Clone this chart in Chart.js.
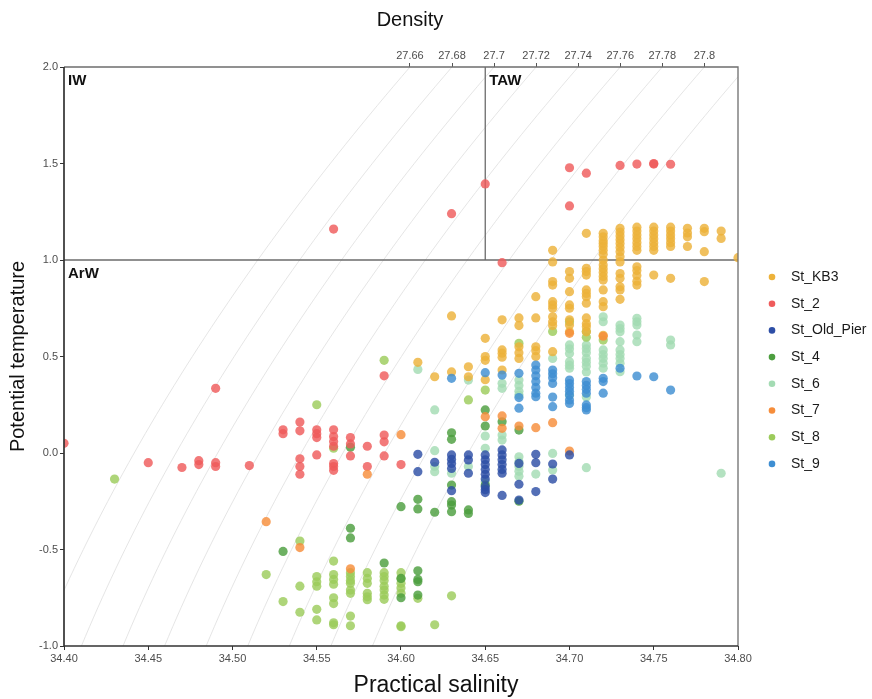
<!DOCTYPE html>
<html>
<head>
<meta charset="utf-8">
<script src="https://cdn.jsdelivr.net/npm/chart.js@4.4.1/dist/chart.umd.min.js"></script>
<style>
  html, body { margin: 0; padding: 0; background: #fff; }
  #wrap { width: 872px; height: 699px; }
</style>
</head>
<body>
<div id="wrap"><canvas id="ts" width="872" height="699"></canvas></div>
<script>
// Potential temperature / practical salinity pairs per station: [S, theta]
const stKB3 = [
  [34.61,0.47],[34.62,0.395],[34.63,0.71],[34.63,0.42],[34.64,0.447],[34.64,0.395],
  [34.65,0.594],[34.65,0.50],[34.65,0.48],[34.65,0.38],
  [34.66,0.69],[34.66,0.534],[34.66,0.517],[34.66,0.496],[34.66,0.43],
  [34.67,0.70],[34.67,0.66],[34.67,0.55],[34.67,0.52],[34.67,0.49],
  [34.68,0.81],[34.68,0.70],[34.68,0.55],[34.68,0.53],[34.68,0.50],
  [34.69,1.05],[34.69,0.99],[34.69,0.888],[34.69,0.87],[34.69,0.784],[34.69,0.767],[34.69,0.75],[34.69,0.706],[34.69,0.68],[34.69,0.66],[34.69,0.525],
  [34.70,0.94],[34.70,0.905],[34.70,0.836],[34.70,0.767],[34.70,0.75],[34.70,0.69],[34.70,0.663],[34.70,0.628],
  [34.71,1.138],[34.71,0.957],[34.71,0.94],[34.71,0.922],[34.71,0.845],[34.71,0.827],[34.71,0.81],[34.71,0.776],[34.71,0.70],[34.71,0.67],[34.71,0.654],[34.71,0.628],
  [34.72,1.138],[34.72,1.12],[34.72,1.10],[34.72,1.085],[34.72,1.07],[34.72,1.05],[34.72,1.03],[34.72,1.0],[34.72,0.974],[34.72,0.955],[34.72,0.935],[34.72,0.915],[34.72,0.896],[34.72,0.845],[34.72,0.784],[34.72,0.758],[34.72,0.61],
  [34.73,1.164],[34.73,1.145],[34.73,1.125],[34.73,1.105],[34.73,1.085],[34.73,1.065],[34.73,1.043],[34.73,1.017],[34.73,0.99],[34.73,0.93],[34.73,0.905],[34.73,0.862],[34.73,0.845],[34.73,0.796],
  [34.74,1.17],[34.74,1.15],[34.74,1.13],[34.74,1.11],[34.74,1.09],[34.74,1.07],[34.74,1.05],[34.74,0.965],[34.74,0.945],[34.74,0.92],[34.74,0.89],[34.74,0.87],
  [34.75,1.17],[34.75,1.15],[34.75,1.13],[34.75,1.11],[34.75,1.09],[34.75,1.07],[34.75,1.05],[34.75,0.922],
  [34.76,1.17],[34.76,1.15],[34.76,1.13],[34.76,1.11],[34.76,1.09],[34.76,1.07],[34.76,0.905],
  [34.77,1.164],[34.77,1.14],[34.77,1.12],[34.77,1.07],
  [34.78,1.164],[34.78,1.147],[34.78,1.043],[34.78,0.888],
  [34.79,1.15],[34.79,1.112],
  [34.80,1.012]
];
const st2 = [
  [34.40,0.05],[34.45,-0.05],[34.47,-0.075],[34.48,-0.04],[34.48,-0.06],
  [34.49,0.335],[34.49,-0.05],[34.49,-0.07],[34.51,-0.065],
  [34.53,0.12],[34.53,0.10],[34.54,0.16],[34.54,0.115],[34.54,-0.03],[34.54,-0.07],[34.54,-0.11],
  [34.55,0.12],[34.55,0.10],[34.55,0.08],[34.55,-0.01],
  [34.56,1.16],[34.56,0.12],[34.56,0.085],[34.56,0.06],[34.56,0.035],[34.56,-0.055],[34.56,-0.07],[34.56,-0.09],
  [34.57,0.08],[34.57,0.047],[34.57,-0.015],
  [34.58,0.035],[34.58,-0.07],
  [34.59,0.40],[34.59,0.093],[34.59,0.058],[34.59,-0.015],
  [34.60,-0.06],
  [34.63,1.24],[34.65,1.394],[34.66,0.986],
  [34.70,1.478],[34.70,1.28],[34.71,1.45],[34.73,1.49],[34.74,1.497],[34.75,1.497],[34.75,1.50],[34.76,1.496]
];
const stOldPier = [
  [34.61,-0.007],[34.61,-0.097],[34.62,-0.048],
  [34.63,-0.01],[34.63,-0.033],[34.63,-0.054],[34.63,-0.08],[34.63,-0.195],
  [34.64,-0.01],[34.64,-0.036],[34.64,-0.105],
  [34.65,-0.01],[34.65,-0.035],[34.65,-0.06],[34.65,-0.085],[34.65,-0.11],[34.65,-0.135],[34.65,-0.175],[34.65,-0.19],[34.65,-0.205],
  [34.66,0.016],[34.66,-0.01],[34.66,-0.035],[34.66,-0.06],[34.66,-0.085],[34.66,-0.105],[34.66,-0.22],
  [34.67,-0.054],[34.67,-0.162],[34.67,-0.244],
  [34.68,-0.007],[34.68,-0.05],[34.68,-0.2],
  [34.69,-0.057],[34.69,-0.135],
  [34.70,-0.01]
];
const st4 = [
  [34.53,-0.51],[34.57,0.03],[34.57,-0.39],[34.57,-0.44],[34.59,-0.57],
  [34.60,-0.278],[34.60,-0.65],[34.60,-0.75],
  [34.61,-0.24],[34.61,-0.29],[34.61,-0.61],[34.61,-0.655],[34.61,-0.667],[34.61,-0.736],
  [34.62,-0.307],
  [34.63,0.105],[34.63,0.071],[34.63,-0.166],[34.63,-0.252],[34.63,-0.27],[34.63,-0.304],
  [34.64,-0.295],[34.64,-0.313],
  [34.65,0.223],[34.65,0.14],[34.65,-0.166],
  [34.66,0.162],[34.67,0.119],[34.67,-0.25]
];
const st6 = [
  [34.61,0.433],[34.62,0.223],[34.62,0.012],[34.62,-0.07],[34.62,-0.097],[34.63,-0.105],
  [34.64,0.378],[34.64,-0.07],[34.65,0.088],[34.65,0.024],[34.65,-0.149],
  [34.66,0.361],[34.66,0.335],[34.66,0.093],[34.66,0.067],
  [34.67,0.378],[34.67,0.35],[34.67,0.32],[34.67,0.30],[34.67,-0.02],[34.67,-0.045],[34.67,-0.07],[34.67,-0.095],[34.67,-0.12],
  [34.68,-0.109],
  [34.69,0.49],[34.69,-0.002],[34.69,-0.088],
  [34.70,0.56],[34.70,0.54],[34.70,0.516],[34.70,0.473],[34.70,0.455],[34.70,0.439],[34.70,0.30],
  [34.71,0.56],[34.71,0.54],[34.71,0.52],[34.71,0.49],[34.71,0.47],[34.71,0.45],[34.71,0.42],[34.71,0.29],[34.71,-0.076],
  [34.72,0.706],[34.72,0.68],[34.72,0.534],[34.72,0.51],[34.72,0.49],[34.72,0.465],[34.72,0.439],
  [34.73,0.663],[34.73,0.645],[34.73,0.628],[34.73,0.577],[34.73,0.534],[34.73,0.51],[34.73,0.49],[34.73,0.465],[34.73,0.421],
  [34.74,0.698],[34.74,0.68],[34.74,0.663],[34.74,0.611],[34.74,0.577],
  [34.76,0.585],[34.76,0.56],
  [34.79,-0.105]
];
const st7 = [
  [34.52,-0.356],[34.54,-0.49],[34.57,-0.60],[34.58,-0.11],[34.60,0.095],
  [34.65,0.188],[34.66,0.192],[34.66,0.128],[34.67,0.14],[34.68,0.131],[34.69,0.157],
  [34.70,0.01],[34.70,0.62],[34.72,0.605]
];
const st8 = [
  [34.43,-0.135],[34.52,-0.63],[34.53,-0.77],
  [34.54,-0.456],[34.54,-0.69],[34.54,-0.825],
  [34.55,0.25],[34.55,-0.64],[34.55,-0.667],[34.55,-0.69],[34.55,-0.81],[34.55,-0.865],
  [34.56,0.025],[34.56,-0.56],[34.56,-0.63],[34.56,-0.655],[34.56,-0.68],[34.56,-0.75],[34.56,-0.78],[34.56,-0.88],[34.56,-0.89],
  [34.57,-0.62],[34.57,-0.64],[34.57,-0.66],[34.57,-0.675],[34.57,-0.71],[34.57,-0.727],[34.57,-0.845],[34.57,-0.895],
  [34.58,-0.62],[34.58,-0.65],[34.58,-0.675],[34.58,-0.727],[34.58,-0.745],[34.58,-0.76],
  [34.59,0.48],[34.59,-0.62],[34.59,-0.64],[34.59,-0.66],[34.59,-0.69],[34.59,-0.71],[34.59,-0.736],[34.59,-0.758],
  [34.60,-0.62],[34.60,-0.65],[34.60,-0.675],[34.60,-0.70],[34.60,-0.727],[34.60,-0.895],[34.60,-0.90],
  [34.61,-0.753],[34.62,-0.89],[34.63,-0.74],
  [34.64,0.275],[34.65,0.326],[34.67,0.568],[34.69,0.63],[34.70,0.68],[34.71,0.63],[34.71,0.60],[34.72,0.585]
];
const st9 = [
  [34.63,0.387],[34.65,0.416],[34.66,0.404],[34.67,0.413],[34.67,0.287],[34.67,0.232],
  [34.68,0.456],[34.68,0.43],[34.68,0.40],[34.68,0.37],[34.68,0.34],[34.68,0.31],[34.68,0.292],
  [34.69,0.43],[34.69,0.41],[34.69,0.39],[34.69,0.36],[34.69,0.29],[34.69,0.24],
  [34.70,0.378],[34.70,0.36],[34.70,0.34],[34.70,0.32],[34.70,0.30],[34.70,0.275],[34.70,0.257],
  [34.71,0.37],[34.71,0.35],[34.71,0.33],[34.71,0.31],[34.71,0.249],[34.71,0.235],[34.71,0.223],
  [34.72,0.387],[34.72,0.37],[34.72,0.31],
  [34.73,0.439],[34.74,0.399],[34.75,0.395],[34.76,0.326]
];

// Station names (legend order) and colours
const stationNames  = ['St_KB3', 'St_2', 'St_Old_Pier', 'St_4', 'St_6', 'St_7', 'St_8', 'St_9'];
const stationColors = ['#EDB23A', '#EF5B5B', '#2D4EA6', '#4C9E3F', '#A3DBB3', '#F68D3A', '#9CCB5B', '#3E8ED2'];
const stationData   = [stKB3, st2, stOldPier, st4, st6, st7, st8, st9];
// Stacking: lower value drawn on top
const stationLayer  = [4, 3, 1, 5, 8, 2, 7, 2];

// Isopycnal levels (sigma-theta, kg m^-3)
const densityLevels = [27.66, 27.68, 27.70, 27.72, 27.74, 27.76, 27.78, 27.80, 27.82];

// Axis limits
const salRange = [34.40, 34.80];
const tempRange = [-1.0, 2.0];

// Water mass boundaries and labels
const boundaryTemp = 1.0;
const boundarySal = 34.65;
const waterMasses = [
  { name: 'IW',  s: 34.40, t: 2.0 },
  { name: 'TAW', s: 34.65, t: 2.0 },
  { name: 'ArW', s: 34.40, t: 1.0 }
];

// UNESCO (1981) one-atmosphere equation of state -> sigma
const SIGMA_REF_SHIFT = 0.0045;
function sigma0(S, T) {
  const rw = 999.842594 + 6.793952e-2*T - 9.095290e-3*T*T + 1.001685e-4*T*T*T
           - 1.120083e-6*T*T*T*T + 6.536332e-9*T*T*T*T*T;
  const A = 0.824493 - 4.0899e-3*T + 7.6438e-5*T*T - 8.2467e-7*T*T*T + 5.3875e-9*T*T*T*T;
  const B = -5.72466e-3 + 1.0227e-4*T - 1.6546e-6*T*T;
  const C = 4.8314e-4;
  return rw + A*S + B*Math.pow(S, 1.5) + C*S*S - 1000 + SIGMA_REF_SHIFT;
}
function salinityAt(level, T) {
  let S = 34.6;
  for (let i = 0; i < 8; i++) {
    const d = (sigma0(S + 1e-4, T) - sigma0(S - 1e-4, T)) / 2e-4;
    S += (level - sigma0(S, T)) / d;
  }
  return S;
}

// Isopycnal curves across the temperature range
const isoTemps = [];
for (let t = tempRange[0] - 0.1; t <= tempRange[1] + 0.1001; t += 0.05) isoTemps.push(t);
const isoDatasets = densityLevels.map(lv => ({
  type: 'line',
  label: '_iso' + lv,
  data: isoTemps.map(t => ({ x: salinityAt(lv, t), y: t })),
  borderColor: '#dedede',
  borderWidth: 0.8,
  pointRadius: 0,
  tension: 0,
  clip: 0,
  order: 20
}));

// Top axis ticks where each isopycnal meets the upper temperature limit
const topTicks = [];
const topLabels = [];
densityLevels.forEach(lv => {
  const s = salinityAt(lv, tempRange[1]);
  if (s >= salRange[0] && s <= salRange[1]) {
    topTicks.push(s);
    topLabels.push(String(parseFloat(lv.toFixed(2))));
  }
});

const boundaryDatasets = [
  { type: 'line', label: '_hline', data: [{x: salRange[0], y: boundaryTemp}, {x: salRange[1], y: boundaryTemp}],
    borderColor: '#6b6b6b', borderWidth: 1.3, pointRadius: 0, clip: 0, order: 15 },
  { type: 'line', label: '_vline', data: [{x: boundarySal, y: boundaryTemp}, {x: boundarySal, y: tempRange[1]}],
    borderColor: '#6b6b6b', borderWidth: 1.3, pointRadius: 0, clip: 0, order: 15 }
];

const stationDatasets = stationNames.map((name, i) => ({
  type: 'scatter',
  label: name,
  data: stationData[i].map(p => ({ x: p[0], y: p[1] })),
  backgroundColor: stationColors[i] + 'D0',
  borderWidth: 0,
  pointRadius: 4.6,
  pointHoverRadius: 4.6,
  order: stationLayer[i]
}));

const FONT = '"Liberation Sans", Arial, Helvetica, sans-serif';
const titles = { bottom: 'Practical salinity', top: 'Density' };

// Frame, axis titles, water-mass labels and legend
const decorations = {
  id: 'decorations',
  afterDatasetsDraw(chart) {
    const { ctx, scales } = chart;
    ctx.save();
    ctx.fillStyle = '#111';
    ctx.font = 'bold 15px ' + FONT;
    ctx.textBaseline = 'top';
    ctx.textAlign = 'left';
    waterMasses.forEach(w => {
      ctx.fillText(w.name, scales.x.getPixelForValue(w.s) + 4, scales.y.getPixelForValue(w.t) + 6);
    });
    ctx.restore();
  },
  afterDraw(chart) {
    const { ctx, chartArea: a, width } = chart;
    ctx.save();
    ctx.strokeStyle = '#6e6e6e';
    ctx.lineWidth = 1.3;
    ctx.beginPath();
    ctx.moveTo(a.left, a.top); ctx.lineTo(a.right, a.top); ctx.lineTo(a.right, a.bottom);
    ctx.stroke();
    ctx.strokeStyle = '#333';
    ctx.lineWidth = 1.7;
    ctx.beginPath();
    ctx.moveTo(a.left, a.top); ctx.lineTo(a.left, a.bottom); ctx.lineTo(a.right, a.bottom);
    ctx.stroke();

    // axis titles
    ctx.fillStyle = '#111';
    ctx.textAlign = 'center';
    ctx.textBaseline = 'middle';
    ctx.font = '23px ' + FONT;
    ctx.fillText(titles.bottom, width / 2, a.bottom + 40);
    ctx.font = '20px ' + FONT;
    ctx.fillText(titles.top, (a.left + a.right) / 2 + 9, 20);

    // legend
    const x0 = a.right + 34;
    const y0 = a.top + 210;
    ctx.font = '14px ' + FONT;
    ctx.textAlign = 'left';
    stationNames.forEach((name, i) => {
      const y = y0 + i * 26.7;
      ctx.fillStyle = stationColors[i];
      ctx.beginPath();
      ctx.arc(x0, y, 3.3, 0, Math.PI * 2);
      ctx.fill();
      ctx.fillStyle = '#1a1a1a';
      ctx.fillText(name, x0 + 19, y);
    });
    ctx.restore();
  }
};

new Chart(document.getElementById('ts'), {
  type: 'scatter',
  data: { datasets: [...stationDatasets, ...boundaryDatasets, ...isoDatasets] },
  options: {
    responsive: false,
    animation: false,
    devicePixelRatio: 1,
    layout: { padding: { left: 0, right: 134, top: 0, bottom: 0 } },
    plugins: { legend: { display: false }, tooltip: { enabled: false } },
    scales: {
      x: {
        type: 'linear', position: 'bottom',
        min: salRange[0], max: salRange[1],
        afterFit: s => { s.height = 53; },
        border: { display: false },
        grid: { display: true, drawOnChartArea: false, drawTicks: true, tickLength: 4, color: '#333' },
        ticks: { stepSize: 0.05, autoSkip: false, padding: 2, color: '#4d4d4d', font: { family: FONT, size: 11 },
                 callback: v => Number(v).toFixed(2) },
        title: { display: false }
      },
      x2: {
        type: 'linear', position: 'top',
        min: salRange[0], max: salRange[1],
        afterFit: s => { s.height = 67; },
        afterBuildTicks: s => { s.ticks = topTicks.map(v => ({ value: v })); },
        border: { display: false },
        grid: { display: true, drawOnChartArea: false, drawTicks: true, tickLength: 4, color: '#555' },
        ticks: { autoSkip: false, padding: 0, maxRotation: 0, color: '#4d4d4d', font: { family: FONT, size: 11 },
                 callback: (v, i) => topLabels[i] },
        title: { display: false }
      },
      y: {
        type: 'linear', position: 'left',
        min: tempRange[0], max: tempRange[1],
        afterFit: s => { s.width = 64; },
        border: { display: false },
        grid: { display: true, drawOnChartArea: false, drawTicks: true, tickLength: 4, color: '#333' },
        ticks: { stepSize: 0.5, autoSkip: false, padding: 2, color: '#4d4d4d', font: { family: FONT, size: 11 },
                 callback: v => Number(v).toFixed(1) },
        title: { display: true, text: 'Potential temperature', color: '#111', font: { family: FONT, size: 20 },
                 padding: { top: 6, bottom: 0 } }
      }
    }
  },
  plugins: [decorations]
});
</script>
</body>
</html>
